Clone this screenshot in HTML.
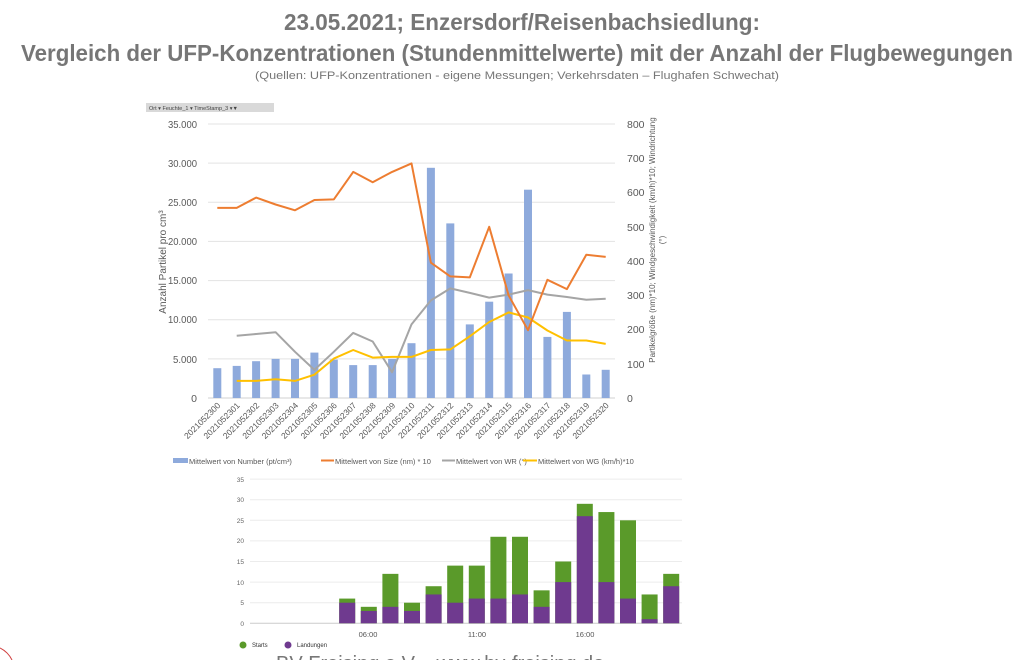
<!DOCTYPE html><html><head><meta charset="utf-8"><style>body{margin:0;background:#fff}svg{display:block}</style></head><body>
<svg width="1024" height="660" xmlns="http://www.w3.org/2000/svg" font-family="Liberation Sans, sans-serif">
<g fill="#767676" font-weight="bold" text-anchor="middle">
<text x="522" y="30" font-size="23" textLength="476" lengthAdjust="spacingAndGlyphs">23.05.2021; Enzersdorf/Reisenbachsiedlung:</text>
<text x="517" y="61" font-size="23" textLength="992" lengthAdjust="spacingAndGlyphs">Vergleich der UFP-Konzentrationen (Stundenmittelwerte) mit der Anzahl der Flugbewegungen</text>
<text x="517" y="79" font-size="11" font-weight="normal" textLength="524" lengthAdjust="spacingAndGlyphs">(Quellen: UFP-Konzentrationen - eigene Messungen; Verkehrsdaten – Flughafen Schwechat)</text>
</g>
<rect x="146" y="103" width="128" height="9" fill="#d9d9d9"/>
<text x="149" y="110" font-size="5.5" fill="#444">Ort ▾  Feuchte_1 ▾  TimeStamp_3 ▾▼</text>
<g stroke="#e3e3e3" stroke-width="1">
<line x1="208" x2="615" y1="124" y2="124"/><line x1="208" x2="615" y1="163.1" y2="163.1"/><line x1="208" x2="615" y1="202.3" y2="202.3"/><line x1="208" x2="615" y1="241.4" y2="241.4"/><line x1="208" x2="615" y1="280.6" y2="280.6"/><line x1="208" x2="615" y1="319.7" y2="319.7"/><line x1="208" x2="615" y1="358.9" y2="358.9"/><line x1="208" x2="615" y1="398" y2="398" stroke="#d0d0d0"/>
</g>
<g font-size="10.5" fill="#595959" text-anchor="end">
<text x="197" y="128" textLength="29" lengthAdjust="spacingAndGlyphs">35.000</text><text x="197" y="167" textLength="29" lengthAdjust="spacingAndGlyphs">30.000</text><text x="197" y="206" textLength="29" lengthAdjust="spacingAndGlyphs">25.000</text><text x="197" y="245" textLength="29" lengthAdjust="spacingAndGlyphs">20.000</text><text x="197" y="284" textLength="29" lengthAdjust="spacingAndGlyphs">15.000</text><text x="197" y="323" textLength="29" lengthAdjust="spacingAndGlyphs">10.000</text><text x="197" y="363" textLength="24" lengthAdjust="spacingAndGlyphs">5.000</text><text x="197" y="402">0</text>
</g>
<g font-size="10.5" fill="#595959">
<text x="627" y="128">800</text><text x="627" y="162">700</text><text x="627" y="196">600</text><text x="627" y="231">500</text><text x="627" y="265">400</text><text x="627" y="299">300</text><text x="627" y="333">200</text><text x="627" y="368">100</text><text x="627" y="402">0</text>
</g>
<text transform="translate(166,262) rotate(-90)" font-size="10" fill="#595959" text-anchor="middle">Anzahl Partikel pro cm³</text>
<text transform="translate(655,240) rotate(-90)" font-size="8" fill="#595959" text-anchor="middle">Partikelgröße (nm)*10; Windgeschwindigkeit (km/h)*10; Windrichtung</text>
<text transform="translate(665,240) rotate(-90)" font-size="8" fill="#595959" text-anchor="middle">(°)</text>
<g fill="#8eaadc">
<rect x="213.3" y="368.2" width="8" height="29.8"/><rect x="232.7" y="365.9" width="8" height="32.1"/><rect x="252.1" y="361.2" width="8" height="36.8"/><rect x="271.6" y="358.9" width="8" height="39.1"/><rect x="291" y="358.9" width="8" height="39.1"/><rect x="310.4" y="352.6" width="8" height="45.4"/><rect x="329.8" y="359.6" width="8" height="38.4"/><rect x="349.2" y="365.1" width="8" height="32.9"/><rect x="368.7" y="365.1" width="8" height="32.9"/><rect x="388.1" y="358.9" width="8" height="39.1"/><rect x="407.5" y="343.2" width="8" height="54.8"/><rect x="426.9" y="167.8" width="8" height="230.2"/><rect x="446.3" y="223.4" width="8" height="174.6"/><rect x="465.8" y="324.4" width="8" height="73.6"/><rect x="485.2" y="301.7" width="8" height="96.3"/><rect x="504.6" y="273.5" width="8" height="124.5"/><rect x="524" y="189.7" width="8" height="208.3"/><rect x="543.4" y="336.9" width="8" height="61.1"/><rect x="562.9" y="311.9" width="8" height="86.1"/><rect x="582.3" y="374.5" width="8" height="23.5"/><rect x="601.7" y="369.8" width="8" height="28.2"/>
</g>
<g fill="none" stroke-width="2" stroke-linejoin="round">
<polyline stroke="#a5a5a5" points="236.7,335.7 256.1,334 275.6,332.2 295,351.8 314.4,369.9 333.8,351.8 353.2,332.9 372.7,341.5 392.1,372.3 411.5,324.4 430.9,300.4 450.3,288.4 469.8,292.9 489.2,297.6 508.6,294.6 528,290.1 547.4,294.6 566.9,297 586.3,299.7 605.7,298.7"/>
<polyline stroke="#ffc000" points="236.7,380.9 256.1,380.9 275.6,379.2 295,380.9 314.4,374.7 333.8,358.6 353.2,350 372.7,357.6 392.1,356.9 411.5,356.9 430.9,350 450.3,349.4 469.8,336.3 489.2,322 508.6,312.4 528,317.5 547.4,330.5 566.9,340.5 586.3,340.5 605.7,343.9"/>
<polyline stroke="#ed7d31" points="217.3,207.9 236.7,207.9 256.1,197.6 275.6,204.5 295,210.3 314.4,200 333.8,199.4 353.2,171.9 372.7,182.2 392.1,171.9 411.5,163.4 430.9,262.7 450.3,276.4 469.8,277.4 489.2,226.8 508.6,295.3 528,330.2 547.4,279.8 566.9,289.1 586.3,254.8 605.7,256.9"/>
</g>
<g font-size="8.5" fill="#595959" text-anchor="end">
<text transform="translate(221,406) rotate(-45)">2021052300</text><text transform="translate(240.4,406) rotate(-45)">2021052301</text><text transform="translate(259.8,406) rotate(-45)">2021052302</text><text transform="translate(279.3,406) rotate(-45)">2021052303</text><text transform="translate(298.7,406) rotate(-45)">2021052304</text><text transform="translate(318.1,406) rotate(-45)">2021052305</text><text transform="translate(337.5,406) rotate(-45)">2021052306</text><text transform="translate(356.9,406) rotate(-45)">2021052307</text><text transform="translate(376.4,406) rotate(-45)">2021052308</text><text transform="translate(395.8,406) rotate(-45)">2021052309</text><text transform="translate(415.2,406) rotate(-45)">2021052310</text><text transform="translate(434.6,406) rotate(-45)">2021052311</text><text transform="translate(454,406) rotate(-45)">2021052312</text><text transform="translate(473.5,406) rotate(-45)">2021052313</text><text transform="translate(492.9,406) rotate(-45)">2021052314</text><text transform="translate(512.3,406) rotate(-45)">2021052315</text><text transform="translate(531.7,406) rotate(-45)">2021052316</text><text transform="translate(551.1,406) rotate(-45)">2021052317</text><text transform="translate(570.6,406) rotate(-45)">2021052318</text><text transform="translate(590,406) rotate(-45)">2021052319</text><text transform="translate(609.4,406) rotate(-45)">2021052320</text>
</g>
<g font-size="7.5" fill="#595959">
<rect x="173" y="458" width="15" height="5" fill="#8eaadc"/><text x="189" y="464">Mittelwert von Number (pt/cm³)</text>
<line x1="321" x2="334" y1="460.5" y2="460.5" stroke="#ed7d31" stroke-width="2"/><text x="335" y="464">Mittelwert von Size (nm) * 10</text>
<line x1="442" x2="455" y1="460.5" y2="460.5" stroke="#a5a5a5" stroke-width="2"/><text x="456" y="464">Mittelwert von WR (°)</text>
<line x1="523" x2="537" y1="460.5" y2="460.5" stroke="#ffc000" stroke-width="2"/><text x="538" y="464">Mittelwert von WG (km/h)*10</text>
</g>
<g stroke="#ececec">
<line x1="250" x2="682" y1="479.1" y2="479.1"/><line x1="250" x2="682" y1="499.7" y2="499.7"/><line x1="250" x2="682" y1="520.3" y2="520.3"/><line x1="250" x2="682" y1="540.9" y2="540.9"/><line x1="250" x2="682" y1="561.5" y2="561.5"/><line x1="250" x2="682" y1="582.1" y2="582.1"/><line x1="250" x2="682" y1="602.7" y2="602.7"/><line x1="250" x2="682" y1="623.3" y2="623.3" stroke="#ccc"/>
</g>
<g font-size="6.5" fill="#666" text-anchor="end">
<text x="244" y="482">35</text><text x="244" y="502">30</text><text x="244" y="523">25</text><text x="244" y="543">20</text><text x="244" y="564">15</text><text x="244" y="585">10</text><text x="244" y="605">5</text><text x="244" y="626">0</text>
</g>
<g transform="translate(250,623.3) scale(1,-4.12)">
<g fill="#5a9a2a">
<rect x="89.2" y="0" width="16" height="6"/><rect x="110.8" y="0" width="16" height="4"/><rect x="132.4" y="0" width="16" height="12"/><rect x="154" y="0" width="16" height="5"/><rect x="175.6" y="0" width="16" height="9"/><rect x="197.2" y="0" width="16" height="14"/><rect x="218.8" y="0" width="16" height="14"/><rect x="240.4" y="0" width="16" height="21"/><rect x="262" y="0" width="16" height="21"/><rect x="283.6" y="0" width="16" height="8"/><rect x="305.2" y="0" width="16" height="15"/><rect x="326.8" y="0" width="16" height="29"/><rect x="348.4" y="0" width="16" height="27"/><rect x="370" y="0" width="16" height="25"/><rect x="391.6" y="0" width="16" height="7"/><rect x="413.2" y="0" width="16" height="12"/>
</g>
<g fill="#6f3a8f">
<rect x="89.2" y="0" width="16" height="5"/><rect x="110.8" y="0" width="16" height="3"/><rect x="132.4" y="0" width="16" height="4"/><rect x="154" y="0" width="16" height="3"/><rect x="175.6" y="0" width="16" height="7"/><rect x="197.2" y="0" width="16" height="5"/><rect x="218.8" y="0" width="16" height="6"/><rect x="240.4" y="0" width="16" height="6"/><rect x="262" y="0" width="16" height="7"/><rect x="283.6" y="0" width="16" height="4"/><rect x="305.2" y="0" width="16" height="10"/><rect x="326.8" y="0" width="16" height="26"/><rect x="348.4" y="0" width="16" height="10"/><rect x="370" y="0" width="16" height="6"/><rect x="391.6" y="0" width="16" height="1"/><rect x="413.2" y="0" width="16" height="9"/>
</g>
</g>
<g font-size="7.5" fill="#555" text-anchor="middle">
<text x="368" y="637">06:00</text><text x="477" y="637">11:00</text><text x="585" y="637">16:00</text>
</g>
<g font-size="6" fill="#333">
<circle cx="243" cy="645" r="3.5" fill="#5a9a2a"/><text x="252" y="647">Starts</text>
<circle cx="288" cy="645" r="3.5" fill="#6f3a8f"/><text x="297" y="647">Landungen</text>
</g>
<text x="276" y="670" font-size="20" fill="#777">BV Freising e.V. - www.bv-freising.de</text>
<path d="M0,648 Q8,652 12,660" fill="none" stroke="#d04040" stroke-width="1"/>
</svg>
</body></html>
